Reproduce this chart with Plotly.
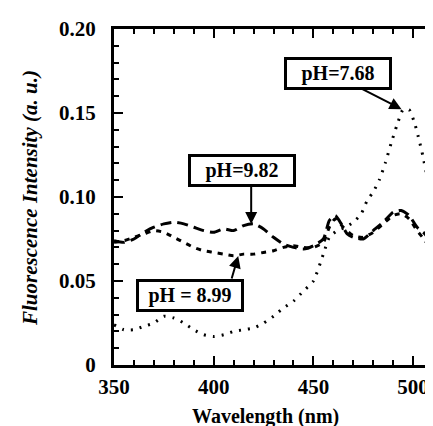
import plotly.graph_objects as go

# Wavelength (nm) and fluorescence intensity (a. u.)
wl_768 = [350, 355, 360, 365, 370, 375, 380, 385, 390, 395, 400, 405, 410, 415, 420,
          425, 430, 435, 440, 445, 450, 455, 458, 462, 466, 470, 474, 477, 480, 483,
          486, 489, 492, 495, 498, 501, 503, 505, 507, 509, 511, 513, 514]
int_768 = [0.024, 0.021, 0.021, 0.023, 0.025, 0.029, 0.028, 0.025, 0.021, 0.018, 0.017, 0.018, 0.020, 0.021, 0.022,
           0.025, 0.029, 0.034, 0.038, 0.044, 0.050, 0.066, 0.076, 0.080, 0.082, 0.085, 0.090, 0.098, 0.103, 0.110,
           0.120, 0.132, 0.143, 0.152, 0.152, 0.143, 0.134, 0.124, 0.112, 0.098, 0.086, 0.072, 0.064]

wl_982 = [350, 355, 360, 365, 370, 375, 380, 385, 390, 395, 400, 405, 410, 415, 420,
          425, 430, 435, 440, 445, 450, 455, 458, 461, 464, 467, 470, 475, 480, 485,
          490, 494, 498, 502, 506, 510, 513, 514]
int_982 = [0.074, 0.073, 0.075, 0.079, 0.082, 0.084, 0.085, 0.084, 0.082, 0.080, 0.079, 0.081, 0.080, 0.083, 0.084,
           0.081, 0.076, 0.072, 0.070, 0.069, 0.071, 0.075, 0.086, 0.089, 0.084, 0.078, 0.076, 0.075, 0.080, 0.085,
           0.091, 0.092, 0.089, 0.082, 0.078, 0.070, 0.060, 0.055]

wl_899 = [350, 355, 360, 365, 370, 375, 380, 385, 390, 395, 400, 405, 410, 415, 420,
          425, 430, 435, 440, 445, 450, 455, 458, 461, 465, 470, 475, 480, 485, 490,
          494, 498, 502, 506, 510, 513, 514]
int_899 = [0.073, 0.074, 0.076, 0.078, 0.080, 0.079, 0.076, 0.073, 0.070, 0.068, 0.067, 0.066, 0.065, 0.066, 0.066,
           0.067, 0.068, 0.070, 0.071, 0.070, 0.070, 0.073, 0.082, 0.087, 0.082, 0.077, 0.076, 0.079, 0.084, 0.089,
           0.090, 0.087, 0.080, 0.074, 0.066, 0.058, 0.053]

x_ticks = [350, 400, 450, 500]
x_tick_text = ["350", "400", "450", "500"]
y_ticks = [0, 0.05, 0.10, 0.15, 0.20]
y_tick_text = ["0", "0.05", "0.10", "0.15", "0.20"]
x_title = "Wavelength (nm)"
y_title = "Fluorescence Intensity (a. u.)"

FONT = "Times New Roman"

fig = go.Figure()
fig.add_trace(go.Scatter(x=wl_768, y=int_768, mode="lines", name="pH=7.68",
                         line=dict(color="black", width=3, dash="2px,7px", shape="spline", smoothing=0.6)))
fig.add_trace(go.Scatter(x=wl_982, y=int_982, mode="lines", name="pH=9.82",
                         line=dict(color="black", width=3, dash="11px,6px", shape="spline", smoothing=0.6)))
fig.add_trace(go.Scatter(x=wl_899, y=int_899, mode="lines", name="pH = 8.99",
                         line=dict(color="black", width=3, dash="5px,6px", shape="spline", smoothing=0.6)))

# labels (boxes) and arrows
labels = [
    dict(text="pH=7.68", x=462.3, y=0.1737, tail=(473.6, 0.1648), head=(494.2, 0.1523)),
    dict(text="pH=9.82", x=414.3, y=0.1160, tail=(418.8, 0.1071), head=(418.8, 0.0839)),
    dict(text="pH = 8.99", x=387.9, y=0.0413, tail=(408.8, 0.0506), head=(412.3, 0.0649)),
]
for lb in labels:
    fig.add_annotation(x=lb["x"], y=lb["y"], xref="x", yref="y", text="<b>" + lb["text"] + "</b>", showarrow=False,
                       font=dict(family=FONT, size=20),
                       bgcolor="white", bordercolor="black", borderwidth=3, borderpad=1,
                       width=100, height=25, align="center", xanchor="center", yanchor="middle")
    fig.add_annotation(x=lb["head"][0], y=lb["head"][1], ax=lb["tail"][0], ay=lb["tail"][1],
                       xref="x", yref="y", axref="x", ayref="y", text="", showarrow=True,
                       arrowhead=2, arrowsize=1.2, arrowwidth=2, arrowcolor="black")

# axis titles placed as paper annotations (fixed margins)
fig.add_annotation(x=0.462, y=-0.152, xref="paper", yref="paper", text="<b>" + x_title + "</b>",
                   showarrow=False, font=dict(family=FONT, size=20), xanchor="center", yanchor="middle")
fig.add_annotation(x=-0.257, y=0.497, xref="paper", yref="paper", text="<b><i>" + y_title + "</i></b>",
                   showarrow=False, font=dict(family=FONT, size=21), textangle=-90,
                   xanchor="center", yanchor="middle")

tickfont = dict(family=FONT, size=21)
fig.update_xaxes(range=[350, 514], tickvals=x_ticks, ticktext=["<b>" + t + "</b>" for t in x_tick_text],
                 ticks="inside", automargin=False,
                 ticklen=9, tickwidth=2, tickcolor="black", showline=True, linewidth=3, linecolor="black",
                 mirror="ticks", showgrid=False, zeroline=False, tickfont=tickfont, ticklabelstandoff=1,
                 minor=dict(dtick=10, tick0=350, ticks="inside", ticklen=5, tickwidth=2, tickcolor="black"))
fig.update_yaxes(range=[0, 0.2], tickvals=y_ticks, ticktext=["<b>" + t + "</b>" for t in y_tick_text],
                 ticks="inside", automargin=False,
                 ticklen=9, tickwidth=2, tickcolor="black", showline=True, linewidth=3, linecolor="black",
                 showgrid=False, zeroline=False, tickfont=tickfont, ticklabelstandoff=11,
                 minor=dict(dtick=0.01, tick0=0, ticks="inside", ticklen=5, tickwidth=2, tickcolor="black"))
fig.update_layout(width=433, height=426, margin=dict(l=106, r=0, t=21, b=69, autoexpand=False),
                  font=dict(family=FONT, color="black"), template="none",
                  plot_bgcolor="white", paper_bgcolor="white", showlegend=False)
fig.write_html("out.html")
